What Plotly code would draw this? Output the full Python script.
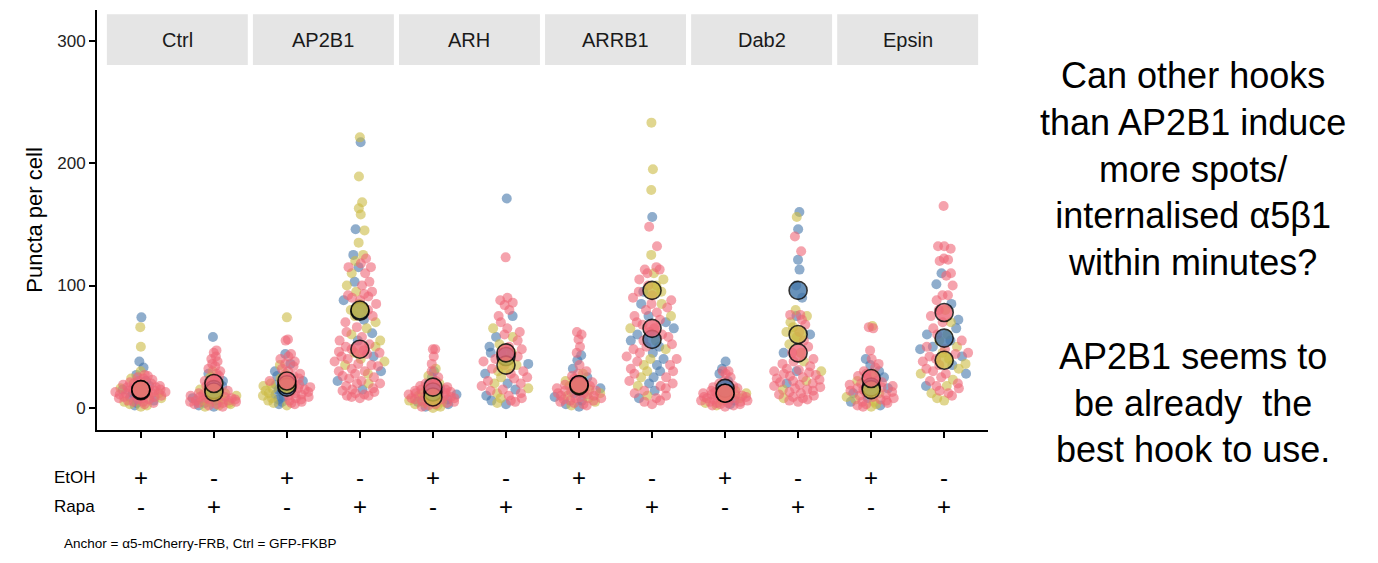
import numpy as np
import plotly.graph_objects as go

# ---------------- data ----------------
hooks = ["Ctrl", "AP2B1", "ARH", "ARRB1", "Dab2", "Epsin"]
etoh_labels = ["+", "-"] * 6
rapa_labels = ["-", "+"] * 6

red_vals = [
    [3,4,5,5,6,7,7,8,8,9,9,10,10,11,11,12,12,12,13,13,14,14,15,15,15,16,16,17,17,18,18,19,20,20,21,22,23,24,25,26,27],
    [1,2,3,3,4,4,5,5,6,6,7,7,8,8,9,9,10,10,11,12,13,14,15,16,18,20,22,24,26,28,30,32,34,36,38,40,42,45,47],
    [3,4,5,6,7,8,9,10,11,12,13,14,15,16,17,18,19,20,21,22,23,24,26,28,30,32,34,36,38,40,42,44,55,56],
    [8,9,10,10,11,12,13,14,15,16,18,20,20,22,24,25,26,28,30,30,32,34,35,36,38,40,42,44,45,46,47,48,50,52,55,58,62,66,70,75,80,85,88,90,91,92,93,95,100,103,110,115,115,118,122],
    [1,2,3,4,5,5,6,6,7,7,8,8,9,9,10,10,11,11,12,12,13,13,14,14,15,15,16,17,18,19,20,22,25,30,36,42,48,48],
    [5,6,8,10,12,14,15,18,20,22,24,25,28,30,32,35,38,40,42,45,48,50,55,60,62,65,70,75,80,84,86,88,90,123],
    [2,3,4,5,6,6,7,8,8,9,10,10,11,12,12,13,14,14,15,16,17,18,19,20,21,22,24,26,28,30,35,45,50,56,60,62],
    [3,5,6,8,10,12,14,16,18,20,22,25,28,30,32,35,38,40,42,45,48,50,52,55,58,60,62,65,68,70,72,75,78,80,82,85,88,90,92,95,100,105,110,113,113,115,132,148],
    [1,2,2,3,3,4,4,5,5,6,6,7,7,8,8,9,9,10,10,11,11,12,12,13,14,15,16,17,18,20,22,25,28,30,30],
    [5,6,7,8,9,10,11,12,13,14,15,16,17,18,19,20,21,22,23,24,25,26,27,28,29,30,31,32,34,36,38,40,45,50,55,62,68,72,76,76,128,140],
    [1,2,3,4,5,6,7,8,9,10,11,12,13,14,15,16,17,18,19,20,21,22,24,26,28,30,33,36,40,47,65,66],
    [10,12,14,16,18,20,22,25,28,30,32,35,38,40,42,44,45,48,50,55,60,65,70,75,80,88,92,92,100,108,110,120,121,122,130,132,132,165],
]
yellow_vals = [
    [1,2,3,5,8,10,12,14,16,20,24,30,50,66],
    [1,2,3,4,5,6,7,8,10,12,15,20,25,30],
    [2,4,6,8,10,12,14,16,18,20,24,28,35,74],
    [20,28,35,38,40,45,50,55,60,65,70,75,80,85,95,100,110,120,125,135,145,158,163,168,189,221],
    [0,1,2,3,4,5,6,8,10,12,15,20,26,32],
    [4,8,12,16,20,25,30,35,40,45,52,58,65],
    [2,5,8,10,12,15,18,22,28],
    [10,18,25,30,35,40,48,55,65,75,85,95,100,105,110,125,178,195,233],
    [2,4,6,8,10,12,14,18],
    [8,15,22,30,38,45,52,58,62,66,70,75,80,156],
    [1,3,5,7,9,12,15,18,22,28,67],
    [6,8,12,18,23,28,32,36,40,45,50,55,60,70,80],
]
blue_vals = [
    [2,4,6,9,12,15,18,22,27,33,38,74],
    [1,2,4,6,8,10,14,18,22,28,58],
    [3,5,7,9,11,13,15,17,19,22,26,30,36,44],
    [15,22,30,42,55,61,72,88,103,115,125,146,217],
    [1,3,5,7,9,11,13,16,20,25,30],
    [3,6,10,15,20,28,36,45,50,58,75,171],
    [1,3,6,9,12,16,20,25,32,39,43],
    [8,14,20,25,30,35,40,45,50,55,60,65,70,75,85,95,156],
    [3,6,9,12,15,18,22,28,32,38],
    [20,30,45,60,75,90,100,113,121,146,160],
    [2,5,8,12,16,20,25,30,35,40],
    [18,28,35,42,48,50,55,60,65,72,85,101,110],
]
red_means = [15, 20, 22, 48, 17, 45, 19, 65, 12, 45, 24, 78]
yellow_means = [15, 13, 19, 80, 9, 35, 18, 96, 12, 60, 15, 39]
blue_means = [14, 15, 17, 79, 13, 42, 19, 56, 16, 96, 17, 57]

RED = "#EE6677"
YEL = "#CCBB44"
BLU = "#4477AA"

# ---------------- quasirandom layout ----------------
def vdc(n, base=2):
    v, denom = 0.0, 1.0
    while n:
        n, r = divmod(n, base)
        denom *= base
        v += r / denom
    return v

def quasi_offsets(vals, width=0.36):
    vals = np.asarray(vals, dtype=float)
    n = len(vals)
    sd = vals.std(ddof=1)
    iqr = np.subtract(*np.percentile(vals, [75, 25]))
    s = min(sd, iqr / 1.34) if iqr > 0 else sd
    bw = 0.9 * s * n ** -0.2
    d = np.exp(-0.5 * ((vals[:, None] - vals[None, :]) / bw) ** 2).sum(axis=1)
    d = d / d.max()
    order = np.argsort(vals, kind="stable")
    offs = np.zeros(n)
    for rank, idx in enumerate(order):
        offs[idx] = (vdc(rank + 1) * 2 - 1) * d[idx] * width
    return offs

xs = {"r": [], "y": [], "b": []}
ys = {"r": [], "y": [], "b": []}
for i in range(12):
    groups = [("b", blue_vals[i]), ("y", yellow_vals[i]), ("r", red_vals[i])]
    allv = []
    tags = []
    for t, v in groups:
        allv += v
        tags += [t] * len(v)
    offs = quasi_offsets(allv)
    for t, v, o in zip(tags, allv, offs):
        xs[t].append(i + 1 + o)
        ys[t].append(v)

fig = go.Figure()
for t, col in [("b", BLU), ("y", YEL), ("r", RED)]:
    fig.add_trace(go.Scatter(
        x=xs[t], y=ys[t], mode="markers",
        marker=dict(size=10, color=col, opacity=0.6, line=dict(width=0)),
        showlegend=False, hoverinfo="y"))

xpos = list(range(1, 13))
for means, col in [(blue_means, BLU), (yellow_means, YEL), (red_means, RED)]:
    fig.add_trace(go.Scatter(
        x=xpos, y=means, mode="markers",
        marker=dict(size=18, color=col, opacity=0.8,
                    line=dict(width=1.6, color="black")),
        showlegend=False, hoverinfo="y"))

# strips
for k, h in enumerate(hooks):
    c = 1.5 + 2 * k
    fig.add_shape(type="rect", xref="x", yref="paper",
                  x0=c - 0.965, x1=c + 0.965, y0=0.869, y1=0.990,
                  fillcolor="#E5E5E5", line=dict(width=0), layer="below")
    fig.add_annotation(x=c, y=0.929, xref="x", yref="paper", text=h,
                       yanchor="middle", showarrow=False,
                       font=dict(size=20, color="#1A1A1A"))

# EtOH / Rapa rows
for lab, yy in [("EtOH", -0.112), ("Rapa", -0.181)]:
    fig.add_annotation(x=-0.050, y=yy, xref="paper", yref="paper", text=lab,
                       xanchor="left", yanchor="middle", showarrow=False,
                       font=dict(size=17, color="black"))
for i in range(12):
    fig.add_annotation(x=i + 1, y=-0.112, xref="x", yref="paper", text=etoh_labels[i],
                       yanchor="middle", showarrow=False, font=dict(size=24, color="black"))
    fig.add_annotation(x=i + 1, y=-0.181, xref="x", yref="paper", text=rapa_labels[i],
                       yanchor="middle", showarrow=False, font=dict(size=24, color="black"))

fig.add_annotation(x=-0.0393, y=-0.271, xref="paper", yref="paper",
                   text="Anchor = \u03b15-mCherry-FRB, Ctrl = GFP-FKBP",
                   xanchor="left", yanchor="middle", showarrow=False,
                   font=dict(size=13.5, color="black"))

side = ("Can other hooks<br>than AP2B1 induce<br>more spots/<br>internalised \u03b15\u03b21<br>"
        "within minutes?<br> <br>AP2B1 seems to<br>be already\u00a0 the<br>best hook to use.")
fig.add_annotation(x=1.230, y=0.399, xref="paper", yref="paper", text=side,
                   showarrow=False, align="center", xanchor="center", yanchor="middle",
                   font=dict(size=36, color="black"))

fig.update_layout(
    width=1370, height=555,
    margin=dict(l=89, r=390, t=2, b=133),
    paper_bgcolor="white", plot_bgcolor="white",
    font=dict(family="Liberation Sans, Arial, sans-serif", color="black"),
    xaxis=dict(range=[0.4, 12.6], tickvals=xpos, ticktext=[""] * 12,
               showgrid=False, zeroline=False, showline=True, linecolor="black",
               linewidth=2, ticks="outside", ticklen=6, tickwidth=1.5,
               tickcolor="black"),
    yaxis=dict(range=[-18, 325], tickvals=[0, 100, 200, 300],
               showgrid=False, zeroline=False, showline=True, linecolor="black",
               linewidth=2, ticks="outside", ticklen=6, tickwidth=1.5,
               tickcolor="black", tickfont=dict(size=17, color="#222"),
               title=dict(text="Puncta per cell", font=dict(size=22), standoff=9)),
)

fig.write_html("out.html")
